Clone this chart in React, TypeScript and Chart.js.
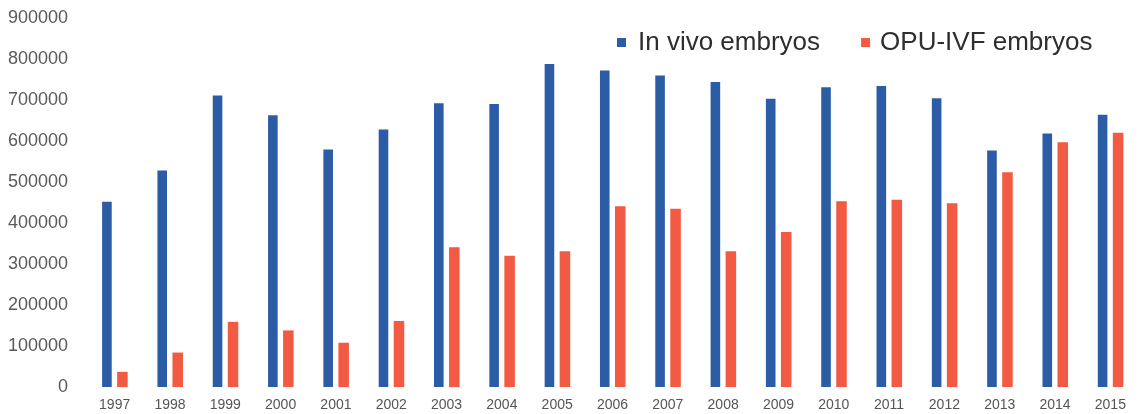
import React, { useEffect, useRef } from "react";
import { Chart, registerables } from "chart.js";

Chart.register(...registerables);

const years = ["1997","1998","1999","2000","2001","2002","2003","2004","2005","2006","2007","2008","2009","2010","2011","2012","2013","2014","2015"];
const inVivo = [452000,528000,711000,663000,579000,628000,692000,690000,788000,772000,760000,744000,703000,731000,734000,704000,577000,618000,664000];
const opuIvf = [37000,84000,159000,138000,108000,161000,341000,320000,331000,441000,435000,331000,378000,453000,457000,448000,524000,597000,620000];
const seriesNames = ["In vivo embryos", "OPU-IVF embryos"];
const yTicks = [0,100000,200000,300000,400000,500000,600000,700000,800000,900000];

const BLUE = "#2d5ca6";
const RED = "#f25a43";

const legendPlugin = {
  id: "customLegend",
  afterDraw(chart: any) {
    const ctx = chart.ctx;
    ctx.save();
    ctx.font = "26px 'Liberation Sans', Arial, sans-serif";
    ctx.textBaseline = "alphabetic";
    let x = 617;
    const baseline = 50;
    chart.data.datasets.forEach((ds: any, i: number) => {
      ctx.fillStyle = ds.backgroundColor;
      ctx.fillRect(x, 38, 9, 9);
      const tx = x + (i === 0 ? 21 : 19);
      ctx.fillStyle = "#2e2e2e";
      ctx.fillText(ds.label, tx, baseline);
      x = tx + ctx.measureText(ds.label).width + 41;
    });
    ctx.restore();
  },
};

export default function App() {
  const ref = useRef<HTMLCanvasElement | null>(null);
  useEffect(() => {
    if (!ref.current) return;
    const chart = new Chart(ref.current, {
      type: "bar",
      data: {
        labels: years,
        datasets: [
          { label: seriesNames[0], data: inVivo, backgroundColor: BLUE, barPercentage: 0.62, categoryPercentage: 0.56 },
          { label: seriesNames[1], data: opuIvf, backgroundColor: RED, barPercentage: 0.68, categoryPercentage: 0.56 },
        ],
      },
      options: {
        animation: false,
        responsive: false,
        maintainAspectRatio: false,
        layout: { padding: { top: 18, right: 3, left: 0, bottom: 0 } },
        plugins: { legend: { display: false }, tooltip: { enabled: false }, title: { display: false } },
        scales: {
          x: {
            grid: { display: false, drawTicks: false },
            border: { display: false },
            ticks: {
              color: "#555",
              font: { family: "'Liberation Sans', Arial, sans-serif", size: 14 },
              padding: 10,
              maxRotation: 0,
              autoSkip: false,
            },
            afterFit(scale: any) { scale.height = 27; scale.paddingLeft = 0; scale.paddingRight = 0; },
          },
          y: {
            min: 0,
            max: 900000,
            grid: { display: false, drawTicks: false },
            border: { display: false },
            afterBuildTicks(scale: any) { scale.ticks = yTicks.map((v) => ({ value: v })); },
            ticks: {
              color: "#5a5a5a",
              font: { family: "'Liberation Sans', Arial, sans-serif", size: 18 },
              padding: 19,
              callback: (v: any) => String(v),
            },
            afterFit(scale: any) { scale.width = 87; scale.paddingTop = 0; scale.paddingBottom = 0; },
          },
        },
      },
      plugins: [legendPlugin],
    });
    return () => chart.destroy();
  }, []);
  return (
    <div style={{ position: "fixed", left: 0, top: 0, width: 1141, height: 414, overflow: "hidden", background: "#fff" }}>
      <canvas ref={ref} width={1141} height={414} style={{ width: 1141, height: 414, display: "block" }} />
    </div>
  );
}
